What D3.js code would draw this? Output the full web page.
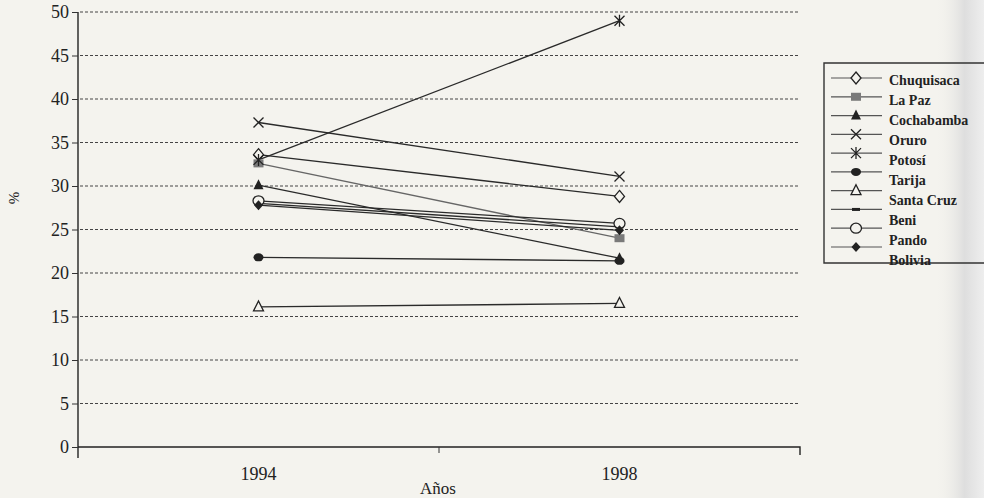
<!DOCTYPE html>
<html><head><meta charset="utf-8">
<script src="https://cdn.jsdelivr.net/npm/d3@7"></script>
<style>
html,body{margin:0;padding:0;background:#f4f3ee;}
svg{display:block;}
text{font-family:"Liberation Serif","DejaVu Serif",serif;fill:#222;}
</style></head>
<body><svg id="c" width="984" height="498"></svg>
<script>
const years = ["1994", "1998"];
const series = ["Chuquisaca","La Paz","Cochabamba","Oruro","Potosí","Tarija","Santa Cruz","Beni","Pando","Bolivia"];
const v1994 = [33.6, 32.6, 30.1, 37.3, 33.0, 21.8, 16.1, 28.0, 28.3, 27.8];
const v1998 = [28.8, 24.0, 21.7, 31.1, 49.0, 21.4, 16.5, 25.3, 25.7, 24.9];
const yTicks = [0,5,10,15,20,25,30,35,40,45,50];
const markers = ["diamond","square","triangle","x","star","circle","triangleOpen","dash","circleOpen","diamondFilled"];

const svg = d3.select("#c");
const defs = svg.append("defs");
const g0 = defs.append("linearGradient").attr("id","edge").attr("x1","0").attr("x2","1");
g0.append("stop").attr("offset","0").attr("stop-color","#f4f3ee").attr("stop-opacity",0);
g0.append("stop").attr("offset","0.6").attr("stop-color","#dedede").attr("stop-opacity",1);
g0.append("stop").attr("offset","1").attr("stop-color","#eeeeee").attr("stop-opacity",1);
svg.append("rect").attr("x",935).attr("y",0).attr("width",49).attr("height",498).attr("fill","url(#edge)");

const x = d3.scaleBand().domain(years).range([78, 800]);
const y = d3.scaleLinear().domain([0, 50]).range([447, 12]);

svg.append("g").selectAll("line").data(yTicks.filter(t => t > 0)).join("line")
  .attr("x1", 80).attr("x2", 800)
  .attr("y1", d => y(d)).attr("y2", d => y(d))
  .attr("stroke", "#444").attr("stroke-width", 1).attr("stroke-dasharray", "3,2");

const ya = svg.append("g").attr("transform", "translate(78,0)")
  .call(d3.axisLeft(y).tickValues(yTicks).tickSize(6).tickPadding(3).tickFormat(d3.format("d")));
ya.select(".domain").attr("stroke", "#222").attr("stroke-width", 1.4).attr("d", "M0,12V458");
ya.selectAll(".tick line").attr("stroke", "#333");
ya.selectAll(".tick text").attr("font-size", 18).attr("fill", "#222")
  .style("font-family", '"Liberation Serif",serif');

const xa = svg.append("g").attr("transform", `translate(0,${y(0)})`)
  .call(d3.axisBottom(x).tickSize(0).tickPadding(20));
xa.select(".domain").attr("stroke", "#222").attr("stroke-width", 1.4).attr("d", "M78,0H800V8");
xa.selectAll(".tick text").attr("font-size", 18).attr("fill", "#222")
  .style("font-family", '"Liberation Serif",serif');
xa.append("line").attr("x1", x("1998")).attr("x2", x("1998")).attr("y1", 0).attr("y2", 6).attr("stroke", "#333");

svg.append("text").attr("x", 438).attr("y", 494).attr("text-anchor", "middle")
  .attr("font-size", 17).text("Años");
svg.append("text").attr("transform", "translate(19,198) rotate(-90)").attr("text-anchor", "middle")
  .attr("font-size", 15).text("%");

function drawMarker(sel, type, cx, cy) {
  const g = sel.append("g").attr("transform", `translate(${cx},${cy})`);
  const ink = "#222";
  switch (type) {
    case "diamond":
      g.append("path").attr("d", "M0,-6L5,0L0,6L-5,0Z").attr("fill", "#f4f3ee").attr("stroke", ink).attr("stroke-width", 1.3); break;
    case "diamondFilled":
      g.append("path").attr("d", "M0,-5L4.5,0L0,5L-4.5,0Z").attr("fill", ink); break;
    case "square":
      g.append("rect").attr("x", -5).attr("y", -4).attr("width", 10).attr("height", 8).attr("fill", "#7a7a7a"); break;
    case "triangle":
      g.append("path").attr("d", "M0,-6L5,4L-5,4Z").attr("fill", ink); break;
    case "triangleOpen":
      g.append("path").attr("d", "M0,-6L5,4L-5,4Z").attr("fill", "#f4f3ee").attr("stroke", ink).attr("stroke-width", 1.3); break;
    case "x":
      g.append("path").attr("d", "M-5,-5L5,5M-5,5L5,-5").attr("stroke", ink).attr("stroke-width", 1.3); break;
    case "star":
      g.append("path").attr("d", "M-5,-5L5,5M-5,5L5,-5M0,-6V6").attr("stroke", ink).attr("stroke-width", 1.3); break;
    case "circle":
      g.append("ellipse").attr("rx", 5).attr("ry", 4).attr("fill", ink); break;
    case "circleOpen":
      g.append("ellipse").attr("rx", 5.5).attr("ry", 5).attr("fill", "#f4f3ee").attr("stroke", ink).attr("stroke-width", 1.3); break;
    case "dash":
      g.append("rect").attr("x", -4).attr("y", -1.5).attr("width", 8).attr("height", 3).attr("fill", ink); break;
  }
}

const plot = svg.append("g");
series.forEach((s, i) => {
  const pts = [[x("1994") + x.bandwidth() / 2, y(v1994[i])], [x("1998") + x.bandwidth() / 2, y(v1998[i])]];
  plot.append("path").attr("d", d3.line()(pts)).attr("fill", "none")
    .attr("stroke", i === 1 ? "#666" : "#2a2a2a").attr("stroke-width", 1.3);
});
series.forEach((s, i) => {
  drawMarker(plot, markers[i], x("1994") + x.bandwidth() / 2, y(v1994[i]));
  drawMarker(plot, markers[i], x("1998") + x.bandwidth() / 2, y(v1998[i]));
});

const lg = svg.append("g");
lg.append("path").attr("d", "M995,63H824V263H995").attr("fill", "none").attr("stroke", "#333").attr("stroke-width", 1.4);
const rowY = d3.scaleLinear().domain([0, series.length - 1]).range([78, 247]);
const labY = d3.scaleLinear().domain([0, series.length - 1]).range([85, 265]);
series.forEach((s, i) => {
  lg.append("line").attr("x1", 831).attr("x2", 882).attr("y1", rowY(i)).attr("y2", rowY(i))
    .attr("stroke", "#555").attr("stroke-width", 1.2);
  drawMarker(lg, markers[i], 856, rowY(i));
  lg.append("text").attr("x", 889).attr("y", labY(i)).attr("font-size", 14).attr("font-weight", "bold")
    .attr("fill", "#333").text(s);
});
</script></body></html>
